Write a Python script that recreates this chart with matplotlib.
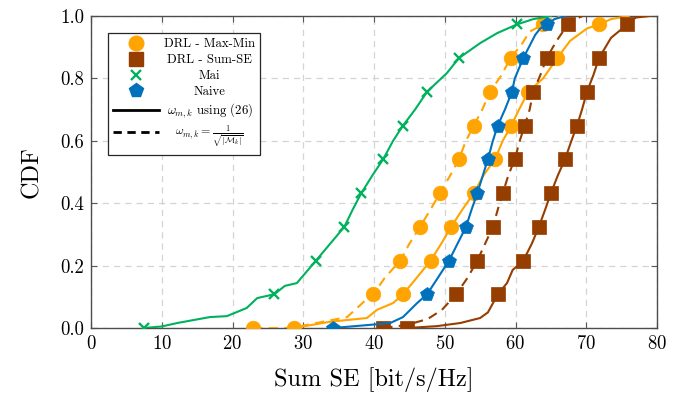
import matplotlib
matplotlib.use("Agg")
import matplotlib.pyplot as plt
from matplotlib.lines import Line2D

plt.rcParams["font.family"] = "serif"
plt.rcParams["font.serif"] = ["cmr10", "DejaVu Serif"]
plt.rcParams["mathtext.fontset"] = "cm"
plt.rcParams["axes.formatter.use_mathtext"] = True

# CDF levels where the markers sit
mark_levels = [0.0, 0.108, 0.216, 0.324, 0.432, 0.541, 0.649, 0.757, 0.865, 0.973]

# DRL - Max-Min, weights = 1/sqrt(|M_k|)  (dashed)
maxmin_sqrt_x = [22.9, 28.7, 30.5, 36.2, 37.6, 39.0, 39.9, 41.5, 43.7, 45.0, 46.5, 48.0, 49.3,
                 50.8, 52.0, 53.0, 54.1, 55.3, 56.4, 58.0, 59.3, 60.9, 62.0, 63.9, 65.0, 66.5]
maxmin_sqrt_y = [0.0, 0.0, 0.01, 0.035, 0.064, 0.093, 0.108, 0.16, 0.216, 0.27, 0.324, 0.38, 0.432,
                 0.49, 0.541, 0.60, 0.649, 0.70, 0.757, 0.81, 0.865, 0.91, 0.95, 0.973, 0.99, 1.0]
maxmin_sqrt_mk = [22.9, 39.9, 43.7, 46.5, 49.3, 52.0, 54.1, 56.4, 59.3, 63.9]

# DRL - Max-Min, weights using (26)  (solid)
maxmin_26_x = [28.7, 33.8, 39.0, 40.4, 42.7, 44.1, 46.0, 48.0, 49.5, 50.9, 52.5, 54.1, 55.5,
               57.1, 58.2, 59.4, 60.5, 61.8, 63.9, 65.9, 67.7, 70.1, 71.8, 73.5, 76.0]
maxmin_26_y = [0.0, 0.02, 0.032, 0.058, 0.08, 0.108, 0.16, 0.216, 0.27, 0.324, 0.38, 0.432, 0.49,
               0.541, 0.60, 0.649, 0.70, 0.757, 0.80, 0.865, 0.92, 0.96, 0.973, 0.99, 1.0]
maxmin_26_mk = [28.7, 44.1, 48.0, 50.9, 54.1, 57.1, 59.4, 61.8, 65.9, 71.8]

# DRL - Sum-SE, weights = 1/sqrt(|M_k|)  (dashed)
sumse_sqrt_x = [41.3, 44.7, 47.6, 49.6, 51.6, 53.2, 54.6, 55.7, 56.8, 57.5, 58.2, 59.0, 59.9,
                60.6, 61.3, 62.0, 62.5, 63.5, 64.4, 65.8, 67.4, 68.5, 69.5]
sumse_sqrt_y = [0.0, 0.01, 0.029, 0.058, 0.108, 0.16, 0.216, 0.27, 0.324, 0.38, 0.432, 0.49, 0.541,
                0.60, 0.649, 0.70, 0.757, 0.81, 0.865, 0.92, 0.973, 0.99, 1.0]
sumse_sqrt_mk = [41.3, 51.6, 54.6, 56.8, 58.2, 59.9, 61.3, 62.5, 64.4, 67.4]

# DRL - Sum-SE, weights using (26)  (solid)
sumse_26_x = [44.7, 48.9, 52.2, 55.0, 56.1, 57.5, 58.8, 59.6, 61.1, 62.3, 63.3, 64.2, 65.0, 66.0,
              67.0, 67.9, 68.7, 69.4, 70.1, 71.0, 71.8, 73.5, 75.8, 77.0, 79.0]
sumse_26_y = [0.0, 0.006, 0.016, 0.032, 0.05, 0.108, 0.144, 0.186, 0.216, 0.27, 0.324, 0.38, 0.432,
              0.49, 0.541, 0.60, 0.649, 0.70, 0.757, 0.81, 0.865, 0.93, 0.973, 0.995, 1.0]
sumse_26_mk = [44.7, 57.5, 61.1, 63.3, 65.0, 67.0, 68.7, 70.1, 71.8, 75.8]

# Mai
mai_x = [7.5, 10.0, 12.2, 16.8, 19.2, 22.0, 23.5, 25.9, 27.4, 29.1, 31.8, 33.8, 35.8, 37.0, 38.2,
         39.8, 41.3, 42.7, 44.1, 45.8, 47.5, 50.3, 52.0, 55.0, 57.4, 60.2, 62.5, 65.0]
mai_y = [0.0, 0.005, 0.016, 0.035, 0.038, 0.064, 0.096, 0.108, 0.135, 0.144, 0.216, 0.27, 0.324,
         0.38, 0.432, 0.49, 0.541, 0.60, 0.649, 0.70, 0.757, 0.817, 0.865, 0.913, 0.945, 0.973,
         0.99, 1.0]
mai_mk = [7.5, 25.9, 31.8, 35.8, 38.2, 41.3, 44.1, 47.5, 52.0, 60.2]

# Naive
naive_x = [34.2, 39.4, 42.3, 44.1, 46.1, 47.5, 49.0, 50.6, 51.8, 53.0, 53.8, 54.6, 55.4, 56.1,
           56.8, 57.5, 58.5, 59.5, 59.9, 61.1, 62.8, 63.5, 64.5, 65.5, 67.0]
naive_y = [0.0, 0.01, 0.016, 0.035, 0.08, 0.108, 0.16, 0.216, 0.27, 0.324, 0.38, 0.432, 0.49,
           0.541, 0.60, 0.649, 0.70, 0.757, 0.80, 0.865, 0.94, 0.96, 0.973, 0.99, 1.0]
naive_mk = [34.2, 47.5, 50.6, 53.0, 54.6, 56.1, 57.5, 59.5, 61.1, 64.5]

x_ticks = [0, 10, 20, 30, 40, 50, 60, 70, 80]
y_ticks = [0.0, 0.2, 0.4, 0.6, 0.8, 1.0]

ORANGE = "#FFA400"
BROWN = "#963D00"
GREEN = "#00B15E"
BLUE = "#0072BD"

fig = plt.figure(figsize=(6.89, 3.95), dpi=100)
ax = fig.add_axes([91 / 689, 1 - 328 / 395, 566 / 689, 312 / 395])

dash = (0, (4.5, 3.0))
lw = 1.5

series = [
    (maxmin_sqrt_x, maxmin_sqrt_y, maxmin_sqrt_mk, ORANGE, dash, "o", 10.5),
    (maxmin_26_x, maxmin_26_y, maxmin_26_mk, ORANGE, "-", "o", 10.5),
    (sumse_sqrt_x, sumse_sqrt_y, sumse_sqrt_mk, BROWN, dash, "s", 9.5),
    (sumse_26_x, sumse_26_y, sumse_26_mk, BROWN, "-", "s", 9.5),
    (mai_x, mai_y, mai_mk, GREEN, "-", "x", 6.5),
    (naive_x, naive_y, naive_mk, BLUE, "-", "p", 10.5),
]

for i, (xs, ys, mk, col, ls, m, ms) in enumerate(series):
    ax.plot(xs, ys, color=col, linestyle=ls, lw=lw, zorder=3 + i)
    ax.plot(mk, mark_levels, linestyle="none", marker=m, markersize=ms, color=col,
            markeredgecolor=col, markeredgewidth=1.7 if m == "x" else 0.5, zorder=3 + i)

ax.set_xlim(0, 80)
ax.set_ylim(0, 1)
ax.set_xticks(x_ticks)
ax.set_yticks(y_ticks)
ax.set_yticklabels([f"{v:.1f}" for v in y_ticks])
ax.grid(True, color="#d4d4d4", linestyle=(0, (5, 4)), linewidth=0.9)
ax.set_axisbelow(True)
ax.tick_params(direction="in", top=True, right=True, length=4, width=0.8, color="0.35",
               labelsize=13.5, pad=5)
for s in ax.spines.values():
    s.set_color("0.3")
    s.set_linewidth(1.0)

ax.set_xlabel("Sum SE [bit/s/Hz]", fontsize=17.5, labelpad=10)
ax.set_ylabel("CDF", fontsize=17.5, labelpad=12)

handles = [
    Line2D([], [], linestyle="none", marker="o", markersize=10.5, color=ORANGE),
    Line2D([], [], linestyle="none", marker="s", markersize=9.5, color=BROWN),
    Line2D([], [], linestyle="none", marker="x", markersize=6.5, markeredgewidth=1.7, color=GREEN),
    Line2D([], [], linestyle="none", marker="p", markersize=10.5, color=BLUE),
    Line2D([], [], color="black", lw=2.0, linestyle="-"),
    Line2D([], [], color="black", lw=2.0, linestyle=(0, (3, 2))),
]
labels = [
    "DRL - Max-Min",
    "DRL - Sum-SE",
    "Mai",
    "Naive",
    r"$\omega_{m,k}$ using (26)",
    r"$\omega_{m,k} = \frac{1}{\sqrt{|\mathcal{M}_k|}}$",
]
leg = ax.legend(handles, labels, loc="upper left", bbox_to_anchor=(0.03, 0.946),
                fontsize=9.2, frameon=True, fancybox=False, edgecolor="0.15",
                framealpha=1.0, handlelength=3.6, handletextpad=0.4, labelspacing=0.3,
                borderpad=0.4, borderaxespad=0.0)
leg.get_frame().set_linewidth(0.9)
leg.set_zorder(20)
leg.get_texts()[-1].set_fontsize(8.6)

# centre each legend label within the label column
fig.canvas.draw()
renderer = fig.canvas.get_renderer()
texts = leg.get_texts()
widths = [t.get_window_extent(renderer).width for t in texts]
wmax = max(widths)
for t, w in zip(texts, widths):
    t.set_x((wmax - w) / 2)

fig.savefig("out.png", dpi=100)
